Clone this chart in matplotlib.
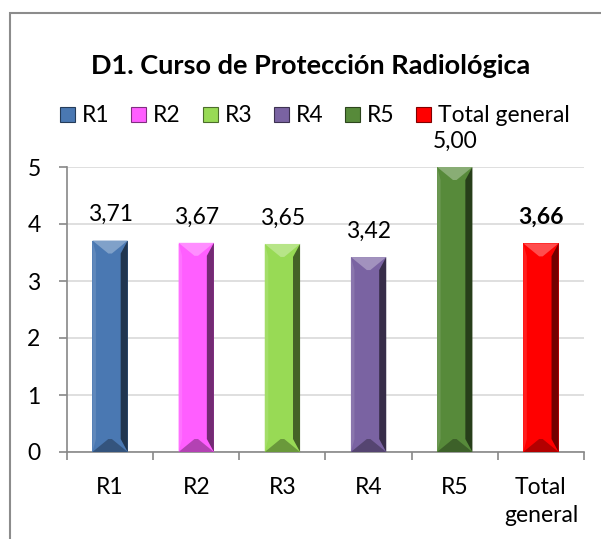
import matplotlib
matplotlib.use('Agg')
import matplotlib.pyplot as plt
from matplotlib.patches import Polygon, Rectangle, Patch
from matplotlib.colors import to_rgb

plt.rcParams['font.family'] = ['Lato', 'DejaVu Sans']

categories = ['R1', 'R2', 'R3', 'R4', 'R5', 'Total\ngeneral']
legend_names = ['R1', 'R2', 'R3', 'R4', 'R5', 'Total general']
values = [3.71, 3.67, 3.65, 3.42, 5.00, 3.66]
value_labels = ['3,71', '3,67', '3,65', '3,42', '5,00', '3,66']
colors = ['#4A78B2', '#FF5EFF', '#98DA55', '#7A63A2', '#578A3A', '#FF0000']

W, H = 601, 539
DPI = 100
FS = 16.5


def shade(c, f):
    r, g, b = to_rgb(c)
    if f < 1:
        return (r * f, g * f, b * f)
    f = f - 1
    return (r + (1 - r) * f, g + (1 - g) * f, b + (1 - b) * f)


fig = plt.figure(figsize=(W / DPI, H / DPI), dpi=DPI)
ax = fig.add_axes([67 / W, 1 - 452 / H, (584 - 67) / W, (452 - 167) / H])

x = list(range(len(values)))
bar_w = 0.41
bars = ax.bar(x, values, width=bar_w, color=colors, zorder=3)
ax.set_xlim(-0.5, len(values) - 0.5)
ax.set_ylim(0, 5)

# bevel look, sized from the bar geometry
px_per_unit = (452 - 167) / 5.0
depth = 13 / px_per_unit
for b, c in zip(bars, colors):
    x0, w, h = b.get_x(), b.get_width(), b.get_height()
    x1 = x0 + w
    side = w * 0.2
    ax.add_patch(Polygon([(x1 - side, h - depth), (x1, h), (x1, 0), (x1 - side, depth)],
                         closed=True, color=shade(c, 0.45), lw=0, zorder=4))
    ax.add_patch(Polygon([(x0, h), (x0 + side * 0.5, h - depth), (x0 + side * 0.5, depth), (x0, 0)],
                         closed=True, color=shade(c, 1.12), lw=0, zorder=4))
    ax.add_patch(Polygon([(x0, h), (x1, h), (x0 + w * 0.55, h - depth), (x0 + w * 0.45, h - depth)],
                         closed=True, color=shade(c, 1.3), lw=0, zorder=5))
    ax.add_patch(Polygon([(x0, 0), (x1, 0), (x0 + w * 0.55, depth), (x0 + w * 0.45, depth)],
                         closed=True, color=shade(c, 0.7), lw=0, zorder=5))

for i, (v, lab) in enumerate(zip(values, value_labels)):
    ax.annotate(lab, (i, v), xytext=(0, 14), textcoords='offset points',
                ha='center', va='baseline', fontsize=FS,
                fontweight='bold' if i == len(values) - 1 else 'normal')

ax.set_yticks([0, 1, 2, 3, 4, 5])
ax.yaxis.grid(True, color='#D9D9D9', lw=1.2, zorder=0)
ax.set_axisbelow(True)
ax.set_xticks(x)
ax.set_xticklabels(categories, linespacing=1.4)
ax.set_xticks([i - 0.5 for i in range(len(values) + 1)], minor=True)
ax.tick_params(axis='x', which='major', length=0, pad=18, labelsize=FS)
ax.tick_params(axis='x', which='minor', length=6, color='#888888', width=1.2)
ax.tick_params(axis='y', length=6, color='#888888', width=1.2, labelsize=FS, pad=13)
for s in ['top', 'right']:
    ax.spines[s].set_visible(False)
for s in ['left', 'bottom']:
    ax.spines[s].set_color('#888888')
    ax.spines[s].set_linewidth(1.2)

fig.text(311 / W, 1 - 73.5 / H, 'D1. Curso de Protección Radiológica',
         ha='center', va='baseline', fontsize=19.5, fontweight='bold')

handles = [Patch(facecolor=c, edgecolor=shade(c, 0.5), lw=0.8) for c in colors]
fig.legend(handles, legend_names, loc='center', bbox_to_anchor=(315 / W, 1 - 116 / H),
           ncol=6, frameon=False, fontsize=FS, handlelength=0.65, handleheight=0.65,
           handletextpad=0.3, columnspacing=0.95, borderpad=0)

fig.patches.append(Rectangle((10 / W, -0.1), 1.2, 1 - 13 / H + 0.1, transform=fig.transFigure,
                             fill=False, edgecolor='#8C8C8C', lw=1.5))

fig.savefig('out.png', dpi=DPI)
